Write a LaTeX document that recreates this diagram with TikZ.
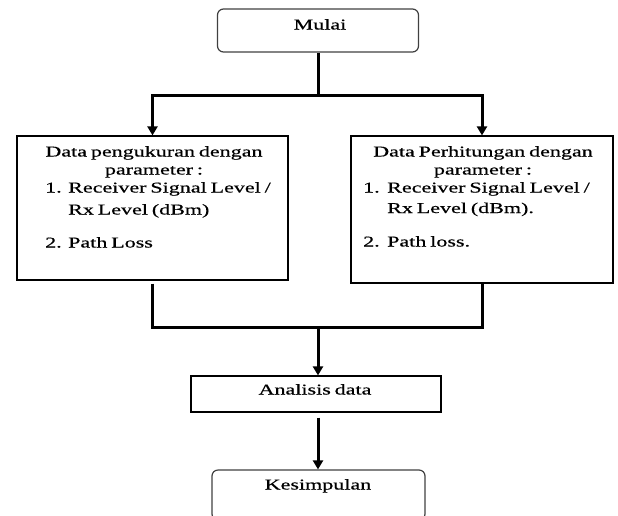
\documentclass[tikz,border=0pt]{standalone}
\usepackage{fontspec}
\setmainfont{Liberation Serif}[FakeStretch=1.47,WordSpace=0.7,FakeBold=0.5]
\usetikzlibrary{arrows.meta}
\begin{document}
\begin{tikzpicture}[x=1pt,y=-1pt,
  box/.style={draw,line width=1.2pt,inner sep=0pt},
  rbox/.style={box,rounded corners=6pt,draw=black!75},
  txt/.style={inner sep=0pt,font=\fontsize{15}{18}\selectfont,anchor=base},
  txtl/.style={txt,anchor=base west},
  conn/.style={line width=3pt},
  arr/.style={conn,-{Triangle[length=9pt,width=10pt]}}]
\useasboundingbox (0,0) rectangle (618,515);
\clip (0,0) rectangle (618,515);
% boxes
\node[rbox,minimum width=201pt,minimum height=43pt] (mulai) at (318,30.5) {};
\node[box,minimum width=271pt,minimum height=144pt] (left) at (152.5,208) {};
\node[box,minimum width=262pt,minimum height=147pt] (right) at (482,209.5) {};
\node[box,minimum width=250pt,minimum height=36pt] (anal) at (316,394) {};
\node[rbox,minimum width=213pt,minimum height=50pt] (kes) at (318.5,495) {};
% texts
\node[txt] (tmulai) at (320,29.5) {Mulai};
\node[txt] (l1) at (154,156.5) {Data pengukuran dengan};
\node[txt] (l2) at (154,174.5) {parameter :};
\node[txtl] (l3n) at (45,192.5) {1.};
\node[txtl] (l3) at (68,192.5) {Receiver Signal Level /};
\node[txtl] (l4) at (68,214.5) {Rx Level (dBm)};
\node[txtl] (l5n) at (45,247.5) {2.};
\node[txtl] (l5) at (68,247.5) {Path Loss};
\node[txt] (r1) at (483,156.5) {Data Perhitungan dengan};
\node[txt] (r2) at (483,174.5) {parameter :};
\node[txtl] (r3n) at (363,192.5) {1.};
\node[txtl] (r3) at (387,192.5) {Receiver Signal Level /};
\node[txtl] (r4) at (387,213) {Rx Level (dBm).};
\node[txtl] (r5n) at (363,246.5) {2.};
\node[txtl] (r5) at (387,246.5) {Path loss.};
\node[txt] (tanal) at (315,394.5) {Analisis data};
\node[txt] (tkes) at (318,489.5) {Kesimpulan};
% connectors
\coordinate (j1) at (318,95);
\coordinate (j2) at (318,327);
\draw[conn] (mulai.south) -- (j1);
\draw[arr] (j1) -| (left.north);
\draw[arr] (j1) -| (right.north);
\draw[conn,shorten <=3pt] (left.south) |- (j2);
\draw[conn] (right.south) |- (j2);
\draw[arr] (j2) -- (j2 |- anal.north);
\draw[arr,shorten <=5pt] (j2 |- anal.south) -- (j2 |- kes.north);
\end{tikzpicture}
\end{document}
